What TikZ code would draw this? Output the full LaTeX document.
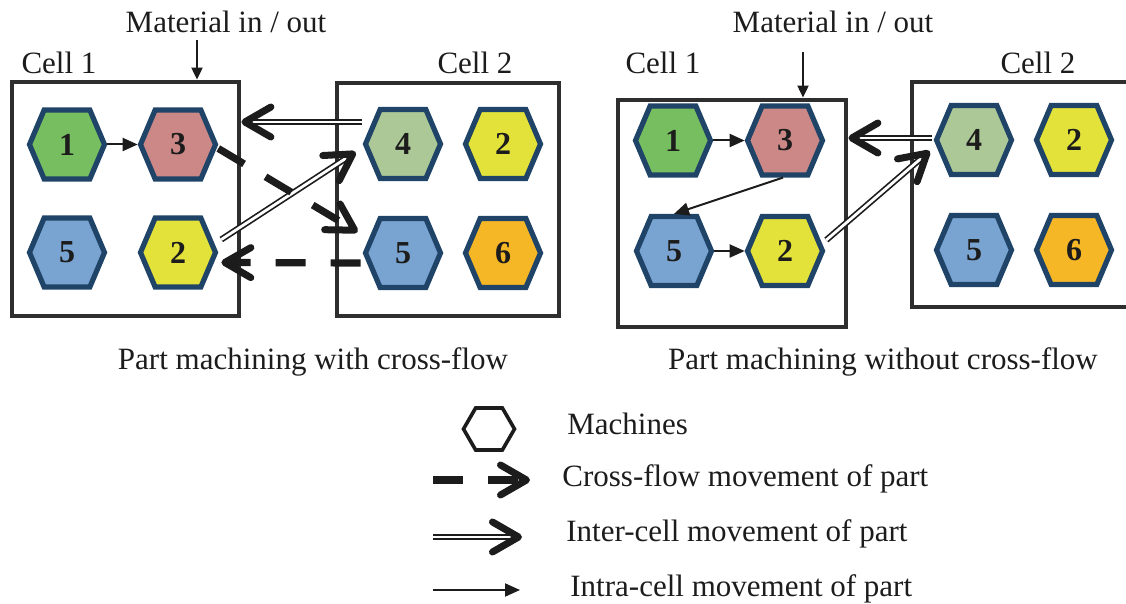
\documentclass[tikz,border=0pt]{standalone}
\usepackage{fontspec}
\setmainfont{Liberation Serif}
\usepackage{xcolor}
\usepackage{tikz}
\usetikzlibrary{positioning, shapes.symbols, arrows.meta}

\definecolor{mgreen}{HTML}{77BE61}
\definecolor{mpink}{HTML}{CC8886}
\definecolor{mblue}{HTML}{79A4D2}
\definecolor{myellow}{HTML}{E3E23A}
\definecolor{mlgreen}{HTML}{ACC896}
\definecolor{morange}{HTML}{F6B727}
\definecolor{medge}{HTML}{1F4468}
\definecolor{cellgray}{HTML}{2E2E2E}
\definecolor{ink}{HTML}{1C1C1C}

\begin{document}
\begin{tikzpicture}[x=0.5pt,y=-0.5pt]
	\tikzstyle{machine}=[signal,signal to=east and west,signal pointer angle=134,draw=medge,line width=2.6pt,
		minimum width=37.5pt,minimum height=34.5pt,inner sep=0pt,font=\fontsize{16pt}{18pt}\selectfont\bfseries,text=ink]
	\tikzstyle{cell}=[draw=cellgray,line width=2.4pt,inner sep=0pt]
	\tikzstyle{txt}=[font=\fontsize{15.5pt}{18pt}\selectfont,text=ink,inner sep=0pt]
	\tikzstyle{intra}=[draw=ink,line width=1pt,-{Triangle[length=7.5pt,width=6.5pt]}]
	\tikzstyle{feed}=[draw=ink,line width=1pt,-{Triangle[length=6pt,width=5.5pt]}]
	\tikzstyle{inter}=[draw=ink,line width=0.85pt,double=white,double distance=1.4pt,-{Straight Barb[length=13pt,width=15pt,line width=3.5pt,round]}]
	\tikzstyle{cross}=[draw=ink,line width=3.6pt,dash pattern=on 15pt off 12.5pt,-{Straight Barb[length=13pt,width=15pt,line width=3.5pt,round]}]
	\useasboundingbox (0,0) rectangle (1126,604);

	% with cross-flow
	\node[cell,minimum width=113.5pt,minimum height=117pt](LC1) at (125.5,199) {};
	\node[cell,minimum width=111pt,minimum height=116.5pt](LC2) at (448,199.5) {};
	\node[txt](LT1) at (59,63) {Cell 1};
	\node[txt](LT2) at (475,63) {Cell 2};
	\node[txt](matL) at (226,22) {Material in / out};
	\coordinate (inL) at (197,40);
	\draw[feed] (inL) -- (inL |- LC1.north);
	\node[machine,fill=mgreen](L1) at (67,144.5) {1};
	\node[machine,fill=mpink](L3) at (178,144.5) {3};
	\node[machine,fill=mblue](L5) at (67,252.5) {5};
	\node[machine,fill=myellow](L2) at (178,252.5) {2};
	\node[machine,fill=mlgreen](L4) at (403,144) {4};
	\node[machine,fill=myellow](L2b) at (503,144) {2};
	\node[machine,fill=mblue](L5b) at (403,253) {5};
	\node[machine,fill=morange](L6) at (503,253) {6};
	\draw[intra] (L1.east) -- (L3.west);
	\coordinate (o4) at ([shift={(-1,-22)}]L4.west);
	\draw[inter] (o4) -- (o4 -| LC1.east);
	\draw[inter] ([shift={(3,-13)}]L2.east) -- ([shift={(-7,8)}]L4.west);
	\draw[cross] ([shift={(0,4)}]L3.east) -- ([shift={(-5,-21)}]L5b.west);
	\draw[cross] ([shift={(-2,10)}]L5b.west) -- ([shift={(3,10)}]L2.east);
	\node[txt](capL) at (313,362) {Part machining with cross-flow};

	% without cross-flow
	\node[cell,minimum width=114pt,minimum height=113.5pt](RC1) at (732,213.5) {};
	\node[cell,minimum width=111pt,minimum height=112.5pt](RC2) at (1023,194.5) {};
	\node[txt](RT1) at (663,63) {Cell 1};
	\node[txt](RT2) at (1038,63) {Cell 2};
	\node[txt](matR) at (833,22) {Material in / out};
	\coordinate (inR) at (803,52);
	\draw[feed] (inR) -- (inR |- RC1.north);
	\node[machine,fill=mgreen](R1) at (673,140.5) {1};
	\node[machine,fill=mpink](R3) at (785,140.5) {3};
	\node[machine,fill=mblue](R5) at (674,251) {5};
	\node[machine,fill=myellow](R2) at (785,251) {2};
	\node[machine,fill=mlgreen](R4) at (974,140) {4};
	\node[machine,fill=myellow](R2b) at (1074,140) {2};
	\node[machine,fill=mblue](R5b) at (974,250) {5};
	\node[machine,fill=morange](R6) at (1074,250) {6};
	\draw[intra] (R1.east) -- (R3.west);
	\draw[intra] ([shift={(-2,0)}]R3.south) -- (R5.north);
	\draw[intra] (R5.east) -- (R2.west);
	\coordinate (q4) at ([shift={(-2,-2)}]R4.west);
	\draw[inter] (q4) -- (q4 -| RC1.east);
	\draw[inter] ([shift={(1,-11)}]R2.east) -- ([shift={(-4,11)}]R4.west);
	\node[txt](capR) at (883,362) {Part machining without cross-flow};

	% legend
	\node[signal,signal to=east and west,signal pointer angle=120,draw=ink,line width=1.8pt,
		minimum width=25.5pt,minimum height=21pt,inner sep=0pt](key) at (489,429) {};
	\node[txt,anchor=west](k1) at (567,424) {Machines};
	\coordinate (k2a) at (433,480);
	\coordinate (k2b) at (530,480);
	\draw[cross] (k2a) -- (k2b);
	\node[txt,anchor=west](k2) at (562,479) {Cross-flow movement of part};
	\coordinate (k3a) at (433,537);
	\coordinate (k3b) at (522,537);
	\draw[inter] (k3a) -- (k3b);
	\node[txt,anchor=west](k3) at (566,534) {Inter-cell movement of part};
	\coordinate (k4a) at (433,590);
	\coordinate (k4b) at (520,590);
	\draw[intra] (k4a) -- (k4b);
	\node[txt,anchor=west](k4) at (570,589) {Intra-cell movement of part};
\end{tikzpicture}
\end{document}
